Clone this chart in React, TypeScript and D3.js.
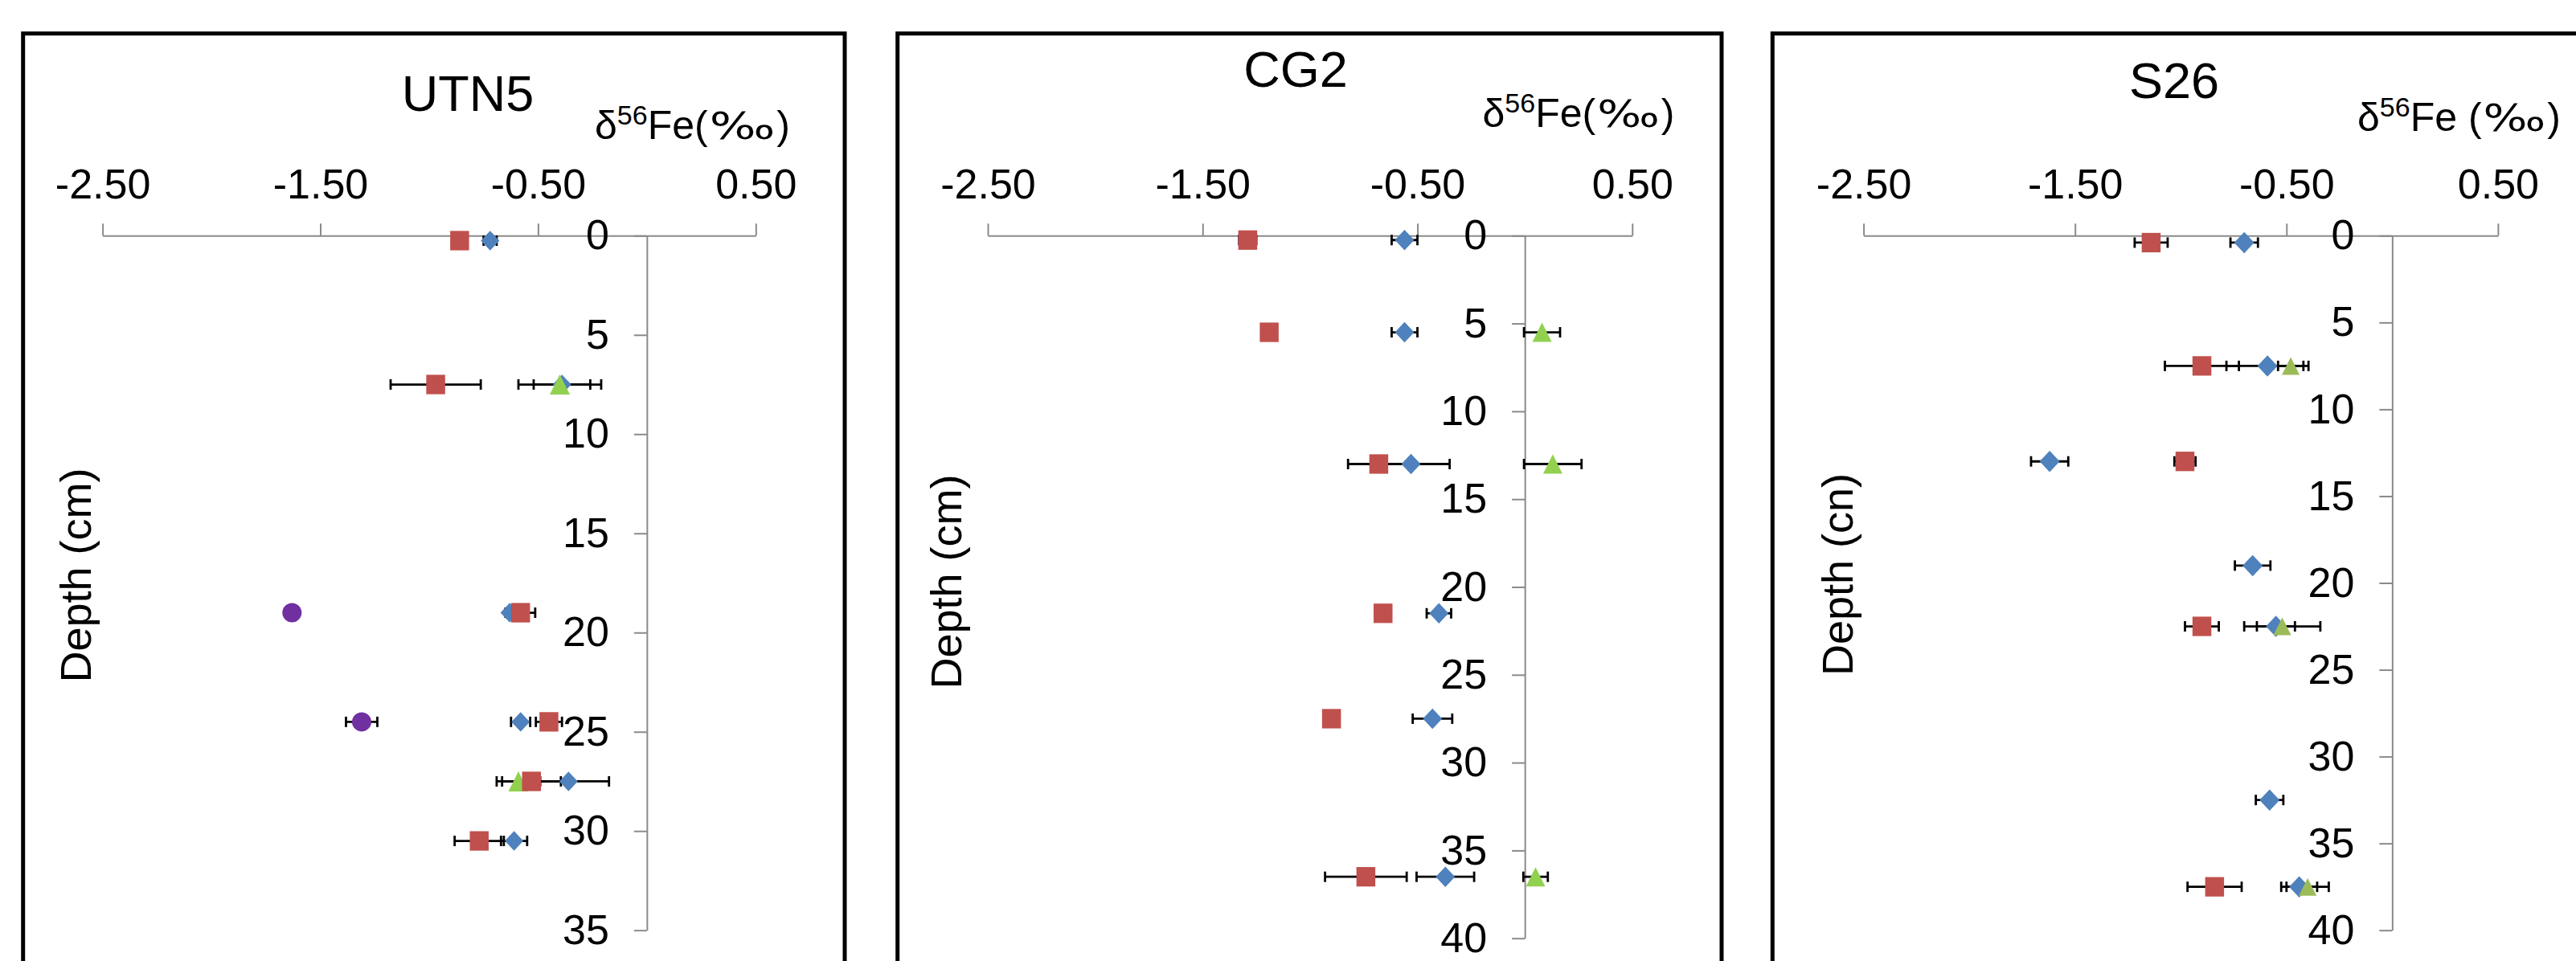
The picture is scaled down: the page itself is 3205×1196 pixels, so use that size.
import * as d3 from "d3";
import { useEffect, useRef } from "react";

type Pt = { depth: number; v: number; err: number };

const W = 3205;
const H = 1196;
const FONT = "'Liberation Sans', Arial, Helvetica, sans-serif";
const AXIS_GRAY = "#8a8a8a";

const X_TICKS = [-2.5, -1.5, -0.5, 0.5];

// UTN5
const UTN5_BLUE: Pt[] = [
  { depth: 0.25, v: -0.72, err: 0.03 },
  { depth: 7.5, v: -0.39, err: 0.13 },
  { depth: 19, v: -0.63, err: 0.02 },
  { depth: 24.5, v: -0.58, err: 0.044 },
  { depth: 27.5, v: -0.36, err: 0.186 },
  { depth: 30.5, v: -0.61, err: 0.06 },
];
const UTN5_RED: Pt[] = [
  { depth: 0.25, v: -0.86, err: 0 },
  { depth: 7.5, v: -0.97, err: 0.207 },
  { depth: 19, v: -0.58, err: 0.067 },
  { depth: 24.5, v: -0.45, err: 0.06 },
  { depth: 27.5, v: -0.53, err: 0.135 },
  { depth: 30.5, v: -0.77, err: 0.113 },
];
const UTN5_GREEN: Pt[] = [
  { depth: 7.5, v: -0.4, err: 0.19 },
  { depth: 27.5, v: -0.59, err: 0.1 },
];
const UTN5_PURPLE: Pt[] = [
  { depth: 19, v: -1.63, err: 0 },
  { depth: 24.5, v: -1.31, err: 0.072 },
];

// CG2
const CG2_BLUE: Pt[] = [
  { depth: 0.25, v: -0.56, err: 0.06 },
  { depth: 5.5, v: -0.56, err: 0.06 },
  { depth: 13, v: -0.53, err: 0.18 },
  { depth: 21.5, v: -0.4, err: 0.057 },
  { depth: 27.5, v: -0.43, err: 0.092 },
  { depth: 36.5, v: -0.37, err: 0.134 },
];
const CG2_RED: Pt[] = [
  { depth: 0.25, v: -1.29, err: 0.04 },
  { depth: 5.5, v: -1.19, err: 0 },
  { depth: 13, v: -0.68, err: 0.143 },
  { depth: 21.5, v: -0.66, err: 0 },
  { depth: 27.5, v: -0.9, err: 0 },
  { depth: 36.5, v: -0.74, err: 0.19 },
];
const CG2_GREEN: Pt[] = [
  { depth: 5.5, v: 0.08, err: 0.084 },
  { depth: 13, v: 0.13, err: 0.134 },
  { depth: 36.5, v: 0.05, err: 0.057 },
];

// S26
const S26_BLUE: Pt[] = [
  { depth: 0.4, v: -0.7, err: 0.065 },
  { depth: 7.5, v: -0.59, err: 0.194 },
  { depth: 13, v: -1.62, err: 0.088 },
  { depth: 19, v: -0.66, err: 0.084 },
  { depth: 22.5, v: -0.55, err: 0.09 },
  { depth: 32.5, v: -0.58, err: 0.065 },
  { depth: 37.5, v: -0.44, err: 0.085 },
];
const S26_RED: Pt[] = [
  { depth: 0.4, v: -1.14, err: 0.078 },
  { depth: 7.5, v: -0.9, err: 0.175 },
  { depth: 13, v: -0.98, err: 0.05 },
  { depth: 22.5, v: -0.9, err: 0.08 },
  { depth: 37.5, v: -0.84, err: 0.128 },
];
const S26_GREEN: Pt[] = [
  { depth: 7.5, v: -0.48, err: 0.06 },
  { depth: 22.5, v: -0.52, err: 0.18 },
  { depth: 37.5, v: -0.4, err: 0.1 },
];

type Shape = "diamond" | "square" | "triangle" | "circle";
interface Series { data: Pt[]; shape: Shape; color: string; w: number }

interface Panel {
  title: string; titleX: number; titleY: number;
  xTitle: string; xTitleX: number; xTitleY: number; xTitleLen: number;
  yTitle: string; yTitleX: number; yTitleY: number;
  frameL: number; frameR: number;
  x0: number; x1: number; yMax: number; yBottom: number;
  series: Series[];
}

const PANELS: Panel[] = [
  {
    title: "UTN5", titleX: 582, titleY: 138,
    xTitle: "Fe(", xTitleX: 740, xTitleY: 173, xTitleLen: 243,
    yTitle: "Depth (cm)", yTitleX: 113, yTitleY: 716,
    frameL: 28.7, frameR: 1051,
    x0: 127.6, x1: 940.3, yMax: 35, yBottom: 1157.7,
    series: [
      { data: UTN5_BLUE, shape: "diamond", color: "#4F81BD", w: 23 },
      { data: UTN5_GREEN, shape: "triangle", color: "#92D050", w: 25 },
      { data: UTN5_RED, shape: "square", color: "#C0504D", w: 23.5 },
      { data: UTN5_PURPLE, shape: "circle", color: "#7030A0", w: 24 },
    ],
  },
  {
    title: "CG2", titleX: 1612, titleY: 108,
    xTitle: "Fe(", xTitleX: 1844.5, xTitleY: 158, xTitleLen: 239,
    yTitle: "Depth (cm)", yTitleX: 1196, yTitleY: 724,
    frameL: 1116.7, frameR: 2142,
    x0: 1229, x1: 2030.8, yMax: 40, yBottom: 1167.7,
    series: [
      { data: CG2_BLUE, shape: "diamond", color: "#4F81BD", w: 24 },
      { data: CG2_GREEN, shape: "triangle", color: "#92D050", w: 24 },
      { data: CG2_RED, shape: "square", color: "#C0504D", w: 23.5 },
    ],
  },
  {
    title: "S26", titleX: 2705, titleY: 122,
    xTitle: "Fe (", xTitleX: 2933, xTitleY: 163, xTitleLen: 253,
    yTitle: "Depth (cn)", yTitleX: 2305, yTitleY: 715,
    frameL: 2205.3, frameR: 3230,
    x0: 2318.6, x1: 3107.9, yMax: 40, yBottom: 1157.7,
    series: [
      { data: S26_BLUE, shape: "diamond", color: "#4F81BD", w: 25 },
      { data: S26_GREEN, shape: "triangle", color: "#9BBB59", w: 22 },
      { data: S26_RED, shape: "square", color: "#C0504D", w: 23.5 },
    ],
  },
];

const AXIS_Y = 293.3;

// marker shapes sized by their box width (size = w*w)
const shapes: Record<Shape, d3.SymbolType> = {
  square: { draw(c, s) { const h = Math.sqrt(s) / 2; c.rect(-h, -h * 1.03, 2 * h, 2 * h * 1.03); } },
  diamond: { draw(c, s) { const h = Math.sqrt(s) / 2; c.moveTo(0, -h * 1.06); c.lineTo(h, 0); c.lineTo(0, h * 1.06); c.lineTo(-h, 0); c.closePath(); } },
  triangle: { draw(c, s) { const h = Math.sqrt(s) / 2; c.moveTo(0, -h); c.lineTo(h, h); c.lineTo(-h, h); c.closePath(); } },
  circle: { draw(c, s) { const r = Math.sqrt(s) / 2; c.moveTo(r, 0); c.arc(0, 0, r, 0, 2 * Math.PI); } },
};

function drawPanel(svg: d3.Selection<SVGSVGElement, unknown, null, undefined>, p: Panel) {
  const x = d3.scaleLinear().domain([-2.5, 0.5]).range([p.x0, p.x1]);
  const y = d3.scaleLinear().domain([0, p.yMax]).range([AXIS_Y, p.yBottom]);
  const g = svg.append("g");

  g.append("rect")
    .attr("x", p.frameL).attr("y", 41.7)
    .attr("width", p.frameR - p.frameL).attr("height", 1400)
    .attr("fill", "none").attr("stroke", "#000").attr("stroke-width", 5);

  g.append("text")
    .attr("x", p.titleX).attr("y", p.titleY)
    .attr("text-anchor", "middle").attr("font-size", 63)
    .text(p.title);

  // δ56Fe(‰): the per-mille sign in the original is drawn wide, so it gets its own length
  const fs = 50;
  const xt = g.append("text").attr("x", p.xTitleX).attr("y", p.xTitleY).attr("font-size", fs);
  xt.append("tspan").text("δ");
  xt.append("tspan").attr("font-size", 34).attr("dy", -18).text("56");
  xt.append("tspan").attr("dy", 18).text(p.xTitle);
  const wA = (xt.node() as SVGTextElement).getComputedTextLength();
  const close = g.append("text").attr("font-size", fs).attr("y", p.xTitleY).attr("text-anchor", "end")
    .attr("x", p.xTitleX + p.xTitleLen).text(")");
  const wC = (close.node() as SVGTextElement).getComputedTextLength();
  g.append("text").attr("font-size", 46).attr("y", p.xTitleY)
    .attr("font-family", "'DejaVu Sans', sans-serif")
    .attr("x", p.xTitleX + wA + 2)
    .attr("textLength", p.xTitleLen - wA - wC - 4).attr("lengthAdjust", "spacingAndGlyphs")
    .text("‰");

  g.append("text")
    .attr("transform", `translate(${p.yTitleX},${p.yTitleY}) rotate(-90)`)
    .attr("text-anchor", "middle").attr("font-size", 54)
    .text(p.yTitle);

  const gx = g.append("g")
    .attr("transform", `translate(0,${y(0)})`)
    .call(
      d3.axisTop(x).tickValues(X_TICKS)
        .tickFormat((d) => (d as number).toFixed(2))
        .tickSizeInner(15).tickSizeOuter(0).tickPadding(31),
    );
  const gy = g.append("g")
    .attr("transform", `translate(${x(0)},0)`)
    .call(
      d3.axisLeft(y).tickValues(d3.range(0, p.yMax + 1, 5))
        .tickFormat((d) => String(d))
        .tickSizeInner(16).tickSizeOuter(0).tickPadding(31),
    );
  [gx, gy].forEach((a) => {
    a.attr("font-size", 52).attr("font-family", FONT);
    a.selectAll(".domain, .tick line").attr("stroke", AXIS_GRAY).attr("stroke-width", 2);
    a.selectAll(".tick text").attr("fill", "#000");
  });

  // error bars under the markers
  const bars = g.append("g").attr("stroke", "#000").attr("stroke-width", 2.8);
  p.series.forEach((s) => {
    s.data.filter((d) => d.err > 0).forEach((d) => {
      const cy = y(d.depth);
      const l = x(d.v - d.err);
      const r = x(d.v + d.err);
      bars.append("line").attr("x1", l).attr("x2", r).attr("y1", cy).attr("y2", cy);
      [l, r].forEach((cx) =>
        bars.append("line").attr("x1", cx).attr("x2", cx).attr("y1", cy - 6.5).attr("y2", cy + 6.5),
      );
    });
  });

  p.series.forEach((s) => {
    const sym = d3.symbol().type(shapes[s.shape]).size(s.w * s.w);
    g.append("g").selectAll("path").data(s.data).enter().append("path")
      .attr("transform", (d) => `translate(${x(d.v)},${y(d.depth)})`)
      .attr("d", sym)
      .attr("fill", s.color);
  });
}

export default function App() {
  const ref = useRef<SVGSVGElement>(null);

  useEffect(() => {
    if (!ref.current) return;
    const svg = d3.select(ref.current);
    svg.selectAll("*").remove();
    svg.append("rect").attr("width", W).attr("height", H).attr("fill", "#fff");
    PANELS.forEach((p) => drawPanel(svg, p));
  }, []);

  return (
    <svg
      ref={ref}
      width={W}
      height={H}
      style={{ position: "absolute", left: 0, top: 0, fontFamily: FONT }}
    />
  );
}
